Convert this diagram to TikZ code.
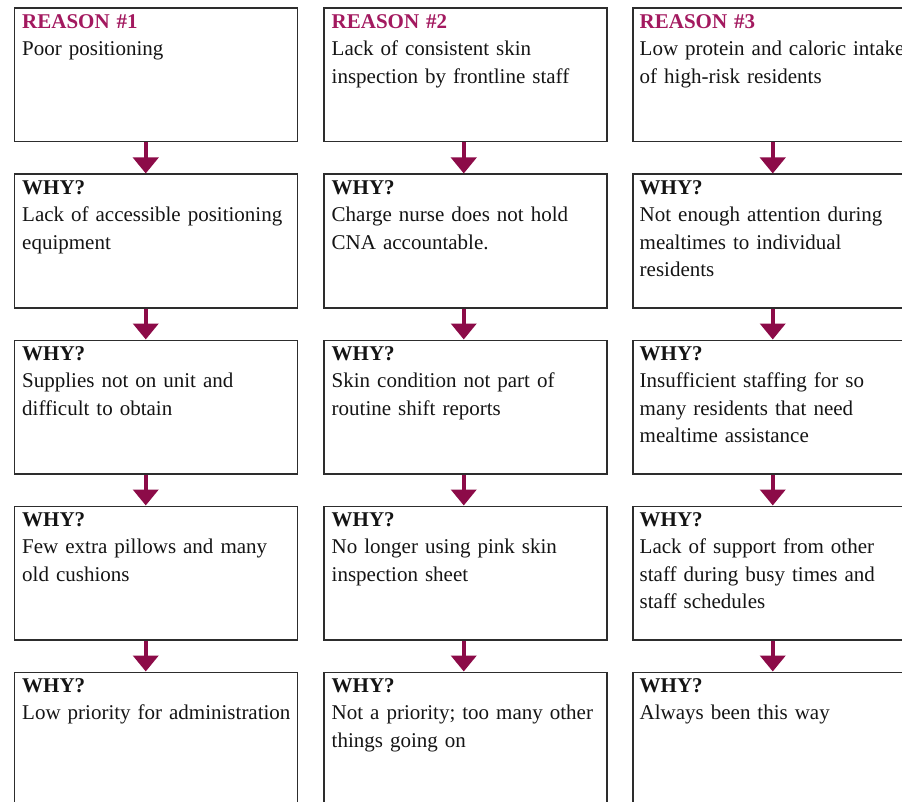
\documentclass[tikz,border=0pt]{standalone}
\usepackage{fontspec}
\setmainfont{Liberation Serif}
\usetikzlibrary{arrows.meta}
\definecolor{reasoncol}{RGB}{163,25,95}
\definecolor{arrowcol}{RGB}{140,11,72}
\definecolor{framecol}{RGB}{45,45,45}
\definecolor{txtcol}{RGB}{20,20,20}
\tikzset{
  whybox/.style={draw=framecol, line width=1.5pt, rectangle, inner sep=0pt,
    minimum width=283pt, minimum height=133.5pt, anchor=north west},
  boxtext/.style={anchor=base west, inner sep=0pt, align=left, text width=285pt,
    text=txtcol, font=\fontsize{21}{27.3}\selectfont},
  downarrow/.style={draw=arrowcol, line width=4pt,
    -{Triangle[width=25pt,length=16pt]}},
}
\newcommand\rsn[1]{\textcolor{reasoncol}{\textbf{REASON \##1}}}
\newcommand\why{\textbf{WHY?}}
\begin{document}
\begin{tikzpicture}[x=1pt,y=-1pt]
\useasboundingbox (0,0) rectangle (902,802);
% boxes
\foreach \c/\xx in {1/13.5,2/323,3/632}{
  \foreach \r/\yy in {1/7.5,2/173.5,3/339.5,4/505.5,5/671.5}{
    \node[whybox] (b\c\r) at (\xx,\yy) {};
  }
}
% texts column 1
\node[boxtext] (t11) at ([xshift=8.5pt,yshift=-21pt]b11.north west) {\rsn{1}\\Poor positioning};
\node[boxtext] (t12) at ([xshift=8.5pt,yshift=-21pt]b12.north west) {\why\\Lack of accessible positioning\\equipment};
\node[boxtext] (t13) at ([xshift=8.5pt,yshift=-21pt]b13.north west) {\why\\Supplies not on unit and\\difficult to obtain};
\node[boxtext] (t14) at ([xshift=8.5pt,yshift=-21pt]b14.north west) {\why\\Few extra pillows and many\\old cushions};
\node[boxtext] (t15) at ([xshift=8.5pt,yshift=-21pt]b15.north west) {\why\\Low priority for administration};
% texts column 2
\node[boxtext] (t21) at ([xshift=8.5pt,yshift=-21pt]b21.north west) {\rsn{2}\\Lack of consistent skin\\inspection by frontline staff};
\node[boxtext] (t22) at ([xshift=8.5pt,yshift=-21pt]b22.north west) {\why\\Charge nurse does not hold\\CNA accountable.};
\node[boxtext] (t23) at ([xshift=8.5pt,yshift=-21pt]b23.north west) {\why\\Skin condition not part of\\routine shift reports};
\node[boxtext] (t24) at ([xshift=8.5pt,yshift=-21pt]b24.north west) {\why\\No longer using pink skin\\inspection sheet};
\node[boxtext] (t25) at ([xshift=8.5pt,yshift=-21pt]b25.north west) {\why\\Not a priority; too many other\\things going on};
% texts column 3
\node[boxtext] (t31) at ([xshift=7.5pt,yshift=-21pt]b31.north west) {\rsn{3}\\Low protein and caloric intake\\of high-risk residents};
\node[boxtext] (t32) at ([xshift=7.5pt,yshift=-21pt]b32.north west) {\why\\Not enough attention during\\mealtimes to individual\\residents};
\node[boxtext] (t33) at ([xshift=7.5pt,yshift=-21pt]b33.north west) {\why\\Insufficient staffing for so\\many residents that need\\mealtime assistance};
\node[boxtext] (t34) at ([xshift=7.5pt,yshift=-21pt]b34.north west) {\why\\Lack of support from other\\staff during busy times and\\staff schedules};
\node[boxtext] (t35) at ([xshift=7.5pt,yshift=-21pt]b35.north west) {\why\\Always been this way};
% arrows
\foreach \c/\dx in {1/-10pt,2/-1.5pt,3/-1.5pt}{
  \foreach \r/\n in {1/2,2/3,3/4,4/5}{
    \draw[downarrow] ([xshift=\dx]b\c\r.south) -- ([xshift=\dx]b\c\n.north);
  }
}
\end{tikzpicture}
\end{document}
